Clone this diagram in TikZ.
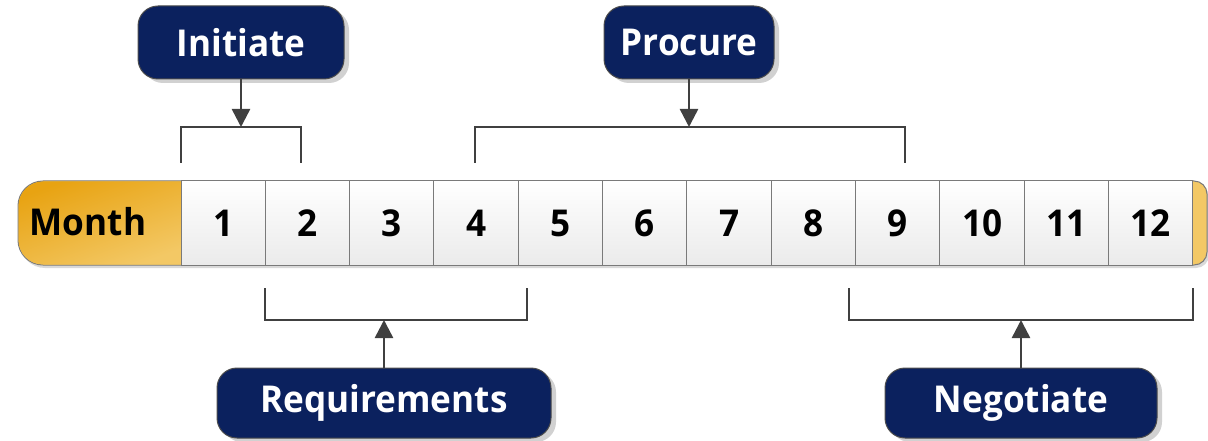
\documentclass[tikz,border=0pt]{standalone}
\usepackage{fontspec}
\setmainfont{Open Sans}[FakeStretch=0.95]
\usetikzlibrary{shadows,arrows.meta}

\definecolor{navy}{HTML}{0B215E}
\definecolor{goldA}{HTML}{E8A312}
\definecolor{goldB}{HTML}{F3C865}
\definecolor{edge}{HTML}{7A7A7A}
\definecolor{wire}{HTML}{404040}

\begin{document}
\begin{tikzpicture}[x=1pt,y=-1pt,
  bigtext/.style={font=\fontsize{37}{40}\selectfont\bfseries},
  cell/.style={bigtext, draw=edge, line width=1pt, top color=white, bottom color=black!8,
    minimum width=84.33pt, minimum height=84pt, inner sep=0pt, text=black},
  tag/.style={bigtext, draw=black!70, line width=1pt, fill=navy, rounded corners=20pt,
    text=white, inner sep=0pt,
    drop shadow={shadow xshift=5pt, shadow yshift=-4pt, fill=black!18, opacity=1}},
  link/.style={draw=wire, line width=2.5pt, -{Triangle[length=18pt,width=18pt]}},
  bracket/.style={draw=wire, line width=2.5pt}
]
\useasboundingbox (0,0) rectangle (1208,441);

% timeline bar background
\path[draw=edge, line width=1pt, fill=goldB,
  drop shadow={shadow xshift=2pt, shadow yshift=-3pt, fill=black!25, opacity=0.6}]
  (100,181) [rounded corners=25pt] -- (18,181) -- (18,265) -- (600,265)
  [rounded corners=13pt] -- (1207,265) -- (1207,181) -- cycle;
% darker gradient under the "Month" heading
\shade[top color=goldA, bottom color=goldB, shading angle=20]
  (181,181.5) [rounded corners=24.5pt] -- (18.5,181.5) -- (18.5,264.5) [sharp corners] -- (181,264.5) -- cycle;
\node[bigtext, text=black] (month) at (88,222) {Month};

% month cells
\foreach \i in {1,...,12}
  \node[cell] (c\i) at ({181+84.33*(\i-0.5)},223) {\i};

% phase labels
\node[tag, minimum width=206pt, minimum height=73pt] (initiate) at (241,42.5) {Initiate};
\node[tag, minimum width=170pt, minimum height=73pt] (procure) at (689,42.5) {Procure};
\node[tag, minimum width=334pt, minimum height=70pt] (requirements) at (384,403) {Requirements};
\node[tag, minimum width=272pt, minimum height=70pt] (negotiate) at (1021,403) {Negotiate};

% bracket join points
\coordinate (ini) at (241,127);
\coordinate (pro) at (689,127);
\coordinate (req) at (384,320);
\coordinate (neg) at (1021,320);

% brackets
\draw[bracket] (181,163) |- (301,127) -- (301,163);
\draw[bracket] (475,163) |- (905,127) -- (905,163);
\draw[bracket] (265,288) |- (527,320) -- (527,288);
\draw[bracket] (849,288) |- (1193,320) -- (1193,288);

% connectors
\draw[link] (initiate) -- (ini);
\draw[link] (procure) -- (pro);
\draw[link] (requirements) -- (req);
\draw[link] (negotiate) -- (neg);
\end{tikzpicture}
\end{document}
